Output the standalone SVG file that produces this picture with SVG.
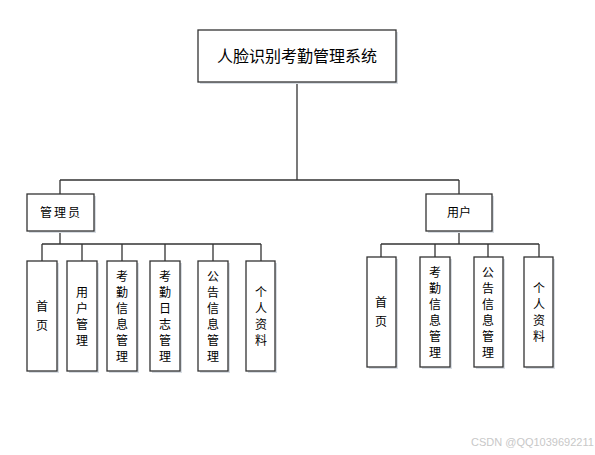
<svg xmlns="http://www.w3.org/2000/svg" width="595" height="455" viewBox="0 0 595 455">
<style>
.box{fill:#fff;stroke:#333;stroke-width:1.3}
.sh{fill:#d8dde3}
.t{font-family:"Noto Sans CJK SC","Liberation Sans",sans-serif;font-size:12px;fill:#000;text-anchor:middle}
.big{font-size:16px}
.ln{fill:none;stroke:#333;stroke-width:1.3}
.wm{font-family:"Liberation Sans",Arial,sans-serif;font-size:11px;fill:#c8c8c8}
</style>
<rect width="595" height="455" fill="#fff"/>
<g id="connectors">
<path class="ln" d="M297,82V180M60,180H459M60,180V194M459,180V194"/>
<path class="ln" d="M60,231V244M42,244H261M42,244V261M82,244V261M122,244V261M165,244V261M213,244V261M261,244V261"/>
<path class="ln" d="M459,231V244M381,244H539M381,244V257M435,244V257M488,244V257M539,244V257"/>
</g>
<g id="root">
<rect class="sh" x="200" y="32" width="198" height="52"/>
<rect class="box" x="198" y="30" width="198" height="52"/>
<text class="t big" x="297" y="62">人脸识别考勤管理系统</text>
</g>
<g id="admin">
<rect class="sh" x="29" y="196" width="67" height="37"/>
<rect class="box" x="27" y="194" width="67" height="37"/>
<text class="t" x="61" y="217" letter-spacing="2">管理员</text>
</g>
<g id="user">
<rect class="sh" x="428" y="196" width="66" height="37"/>
<rect class="box" x="426" y="194" width="66" height="37"/>
<text class="t" x="459" y="217">用户</text>
</g>
<g id="a1">
<rect class="sh" x="29" y="263" width="30" height="110"/>
<rect class="box" x="27" y="261" width="30" height="110"/>
<text class="t" x="42"><tspan x="42" y="311">首</tspan><tspan x="42" y="330">页</tspan></text>
</g>
<g id="a2">
<rect class="sh" x="69" y="263" width="30" height="110"/>
<rect class="box" x="67" y="261" width="30" height="110"/>
<text class="t"><tspan x="82" y="297">用</tspan><tspan x="82" y="313">户</tspan><tspan x="82" y="329">管</tspan><tspan x="82" y="345">理</tspan></text>
</g>
<g id="a3">
<rect class="sh" x="109" y="263" width="30" height="110"/>
<rect class="box" x="107" y="261" width="30" height="110"/>
<text class="t"><tspan x="122" y="281">考</tspan><tspan x="122" y="297">勤</tspan><tspan x="122" y="313">信</tspan><tspan x="122" y="329">息</tspan><tspan x="122" y="345">管</tspan><tspan x="122" y="361">理</tspan></text>
</g>
<g id="a4">
<rect class="sh" x="152" y="263" width="30" height="110"/>
<rect class="box" x="150" y="261" width="30" height="110"/>
<text class="t"><tspan x="165" y="281">考</tspan><tspan x="165" y="297">勤</tspan><tspan x="165" y="313">日</tspan><tspan x="165" y="329">志</tspan><tspan x="165" y="345">管</tspan><tspan x="165" y="361">理</tspan></text>
</g>
<g id="a5">
<rect class="sh" x="200" y="263" width="30" height="110"/>
<rect class="box" x="198" y="261" width="30" height="110"/>
<text class="t"><tspan x="213" y="281">公</tspan><tspan x="213" y="297">告</tspan><tspan x="213" y="313">信</tspan><tspan x="213" y="329">息</tspan><tspan x="213" y="345">管</tspan><tspan x="213" y="361">理</tspan></text>
</g>
<g id="a6">
<rect class="sh" x="248" y="263" width="29" height="110"/>
<rect class="box" x="246" y="261" width="29" height="110"/>
<text class="t"><tspan x="261" y="297">个</tspan><tspan x="261" y="313">人</tspan><tspan x="261" y="329">资</tspan><tspan x="261" y="345">料</tspan></text>
</g>
<g id="u1">
<rect class="sh" x="369" y="259" width="29" height="110"/>
<rect class="box" x="367" y="257" width="29" height="110"/>
<text class="t"><tspan x="381" y="307">首</tspan><tspan x="381" y="326">页</tspan></text>
</g>
<g id="u2">
<rect class="sh" x="422" y="259" width="30" height="110"/>
<rect class="box" x="420" y="257" width="30" height="110"/>
<text class="t"><tspan x="435" y="277">考</tspan><tspan x="435" y="293">勤</tspan><tspan x="435" y="309">信</tspan><tspan x="435" y="325">息</tspan><tspan x="435" y="341">管</tspan><tspan x="435" y="357">理</tspan></text>
</g>
<g id="u3">
<rect class="sh" x="476" y="259" width="29" height="110"/>
<rect class="box" x="474" y="257" width="29" height="110"/>
<text class="t"><tspan x="488" y="277">公</tspan><tspan x="488" y="293">告</tspan><tspan x="488" y="309">信</tspan><tspan x="488" y="325">息</tspan><tspan x="488" y="341">管</tspan><tspan x="488" y="357">理</tspan></text>
</g>
<g id="u4">
<rect class="sh" x="526" y="259" width="29" height="110"/>
<rect class="box" x="524" y="257" width="29" height="110"/>
<text class="t"><tspan x="539" y="293">个</tspan><tspan x="539" y="309">人</tspan><tspan x="539" y="325">资</tspan><tspan x="539" y="341">料</tspan></text>
</g>
<text class="wm" x="471" y="446">CSDN @QQ1039692211</text>
</svg>
